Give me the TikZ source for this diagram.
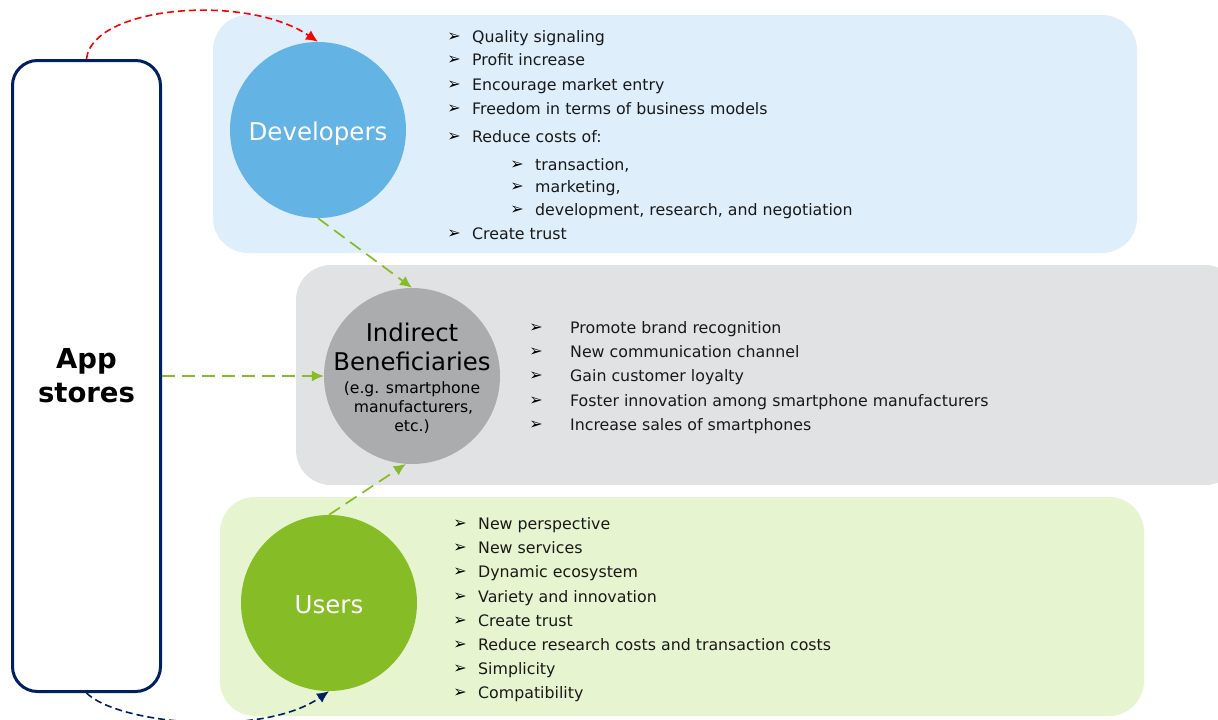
\documentclass[tikz,border=0pt]{standalone}
\usepackage{fontspec}
\setmainfont{DejaVu Sans}
\usetikzlibrary{arrows.meta}
\definecolor{navy}{HTML}{002060}
\definecolor{bluebg}{HTML}{DEEEFA}
\definecolor{bluec}{HTML}{63B3E5}
\definecolor{greybg}{HTML}{E1E2E4}
\definecolor{greyc}{HTML}{ABACAE}
\definecolor{greenbg}{HTML}{E6F4CF}
\definecolor{greenc}{HTML}{86BC25}
\newcommand\indbig{\fontsize{24.4}{19}\selectfont}
\newcommand\indsml{\fontsize{15.6}{19}\selectfont}
\tikzset{
  x=1pt,y=-1pt,
  panel/.style={fill=#1,draw=none,rounded corners=35pt},
  circ/.style={circle,fill=#1,draw=none,minimum size=176pt,inner sep=0pt},
  item/.style={anchor=west,inner sep=0pt,text height=13pt,text depth=0pt,font=\fontsize{15.8}{18}\selectfont,text=black!90},
  bul/.style={anchor=center,inner sep=0pt,yshift=-1pt,font=\fontsize{16}{18}\selectfont,text=black},
  gdash/.style={draw=greenc,line width=1.7pt,dash pattern=on 13pt off 7pt,-{Latex[length=12pt,width=11pt,color=greenc]}},
  curvearrow/.style={line width=1.6pt,dash pattern=on 7pt off 4pt}
}
\begin{document}
\begin{tikzpicture}
\useasboundingbox (0,0) rectangle (1218,720);
\fill[panel=bluebg] (213,15) rectangle (1137,253);
\fill[panel=greybg] (296,265) rectangle (1240,485);
\fill[panel=greenbg] (220,497) rectangle (1144,716);
\node[draw=navy,line width=3pt,fill=white,rounded corners=25pt,minimum width=148pt,minimum height=631pt,inner sep=0pt,align=center,font=\fontsize{27.5}{34}\selectfont\bfseries] (app) at (86.5,376) {App\\stores};
\node[circ=bluec,text=white,font=\fontsize{24.5}{28}\selectfont,text height=20pt,text depth=0pt] (dev) at (318,130) {Developers};
\node[circ=greyc] (ind) at (412,376) {};
\node[inner sep=0pt,align=center,text=black,font=\fontsize{15.6}{19}\selectfont] (indtxt) at (412,378) {\indbig Indirect\\[10.5pt]\indbig Beneficiaries\\[3.5pt]\indsml (e.g. smartphone\\\indsml\hspace*{3pt}manufacturers,\\\indsml etc.)};
\node[circ=greenc,text=white,font=\fontsize{24.5}{28}\selectfont,text height=21pt,text depth=0pt] (usr) at (329,603) {Users};
\foreach \n/\y/\t in {
 a/36/Quality signaling,
 b/59/Profit increase,
 c/84/Encourage market entry,
 d/108/Freedom in terms of business models,
 e/136/Reduce costs of:,
 i/233/Create trust}{
  \node[bul] (b\n) at (454,\y) {➢};
  \node[item] (t\n) at (472,\y) {\t};
}
\foreach \n/\y/\t in {
 f/164/{transaction,},
 g/186/{marketing,},
 h/209/{development, research, and negotiation}}{
  \node[bul] (b\n) at (517,\y) {➢};
  \node[item] (t\n) at (535,\y) {\t};
}
\foreach \n/\y/\t in {
 p/327/Promote brand recognition,
 q/351/New communication channel,
 r/375/Gain customer loyalty,
 s/400/Foster innovation among smartphone manufacturers,
 u/424/Increase sales of smartphones}{
  \node[bul] (b\n) at (536,\y) {➢};
  \node[item] (t\n) at (570,\y) {\t};
}
\foreach \n/\y/\t in {
 k/523/New perspective,
 l/547/New services,
 m/571/Dynamic ecosystem,
 n/596/Variety and innovation,
 o/620/Create trust,
 v/644/Reduce research costs and transaction costs,
 w/668/Simplicity,
 x/692/Compatibility}{
  \node[bul] (b\n) at (460,\y) {➢};
  \node[item] (t\n) at (478,\y) {\t};
}
\draw[gdash] (dev.south) -- (ind.north);
\draw[gdash] (app.east) -- (ind.west);
\draw[gdash] (usr.north) -- (ind.266);
\draw[curvearrow,draw=red,-{Latex[length=12pt,width=11pt,color=red]}] (app.north) .. controls (92,6) and (246,-7) .. (dev.north);
\draw[curvearrow,draw=navy,-{Latex[length=12pt,width=11pt,color=navy]}] (app.south) .. controls (118,724) and (262,738) .. (usr.south);
\end{tikzpicture}
\end{document}
